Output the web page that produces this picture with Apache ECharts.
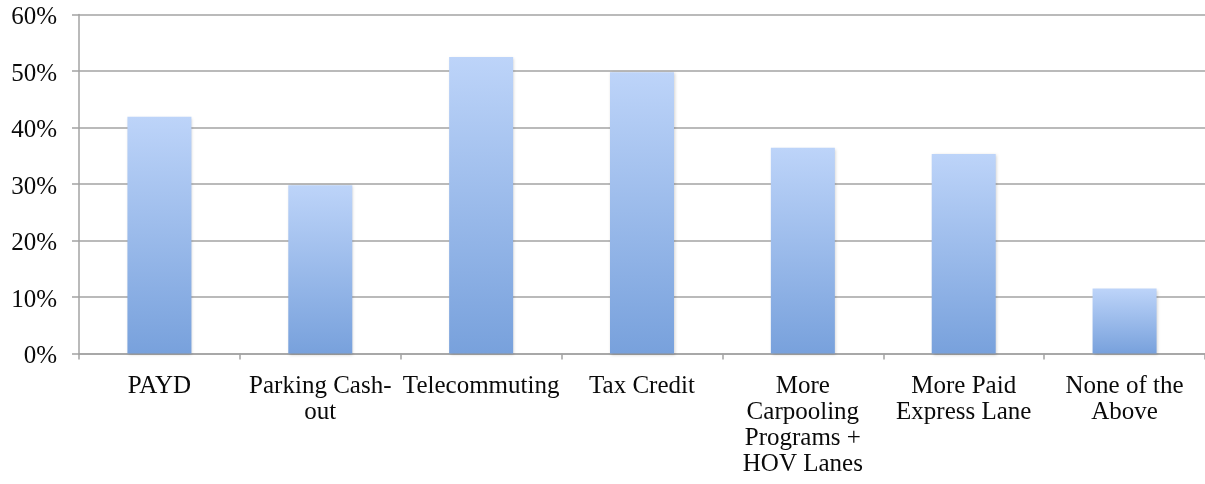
<!DOCTYPE html>
<html>
<head>
<meta charset="utf-8">
<style>
  html, body { margin: 0; padding: 0; background: #fff; }
  #chart { width: 1205px; height: 484px; }
</style>
<script src="https://cdn.jsdelivr.net/npm/echarts@6/dist/echarts.min.js"></script>
</head>
<body>
<div id="chart"></div>
<script>
// Survey responses: share of respondents favouring each measure
const categories = [
  'PAYD',
  'Parking Cash-\nout',
  'Telecommuting',
  'Tax Credit',
  'More\nCarpooling\nPrograms +\nHOV Lanes',
  'More Paid\nExpress Lane',
  'None of the\nAbove'
];
const shares = [41.9, 29.8, 52.5, 49.8, 36.4, 35.3, 11.5];
const yTicks = [0, 10, 20, 30, 40, 50, 60];

const chart = echarts.init(document.getElementById('chart'), null, { renderer: 'canvas' });
const font = 'Liberation Serif';

chart.setOption({
  animation: false,
  grid: { left: 79, top: 14.5, width: 1129, height: 339, containLabel: false },
  xAxis: {
    type: 'category',
    data: categories,
    axisLine: { lineStyle: { color: '#a3a3a3', width: 1.5 } },
    axisTick: { show: true, length: 6, lineStyle: { color: '#a3a3a3', width: 1.5 } },
    axisLabel: {
      color: '#0a0a0a', fontFamily: font, fontSize: 25, lineHeight: 26,
      margin: 20, interval: 0
    }
  },
  yAxis: {
    type: 'value',
    min: yTicks[0],
    max: yTicks[yTicks.length - 1],
    interval: 10,
    axisLine: { show: true, lineStyle: { color: '#a3a3a3', width: 1.5 } },
    axisTick: { show: true, length: 7, lineStyle: { color: '#a3a3a3', width: 1.5 } },
    splitLine: { lineStyle: { color: '#a3a3a3', width: 1.5 } },
    axisLabel: {
      margin: 22,
      formatter: v => '{pct|' + v + '%}',
      rich: {
        pct: {
          color: '#0a0a0a', fontFamily: font, fontSize: 25,
          padding: [6, 0, 0, 0]
        }
      }
    }
  },
  series: [{
    type: 'bar',
    data: shares,
    barWidth: 64,
    itemStyle: {
      color: new echarts.graphic.LinearGradient(0, 0, 0, 1, [
        { offset: 0, color: '#bdd4f9' },
        { offset: 1, color: '#78a1dc' }
      ]),
      shadowColor: 'rgba(0,0,0,0.18)',
      shadowBlur: 3,
      shadowOffsetX: 1,
      shadowOffsetY: 1
    }
  }]
});
</script>
</body>
</html>
